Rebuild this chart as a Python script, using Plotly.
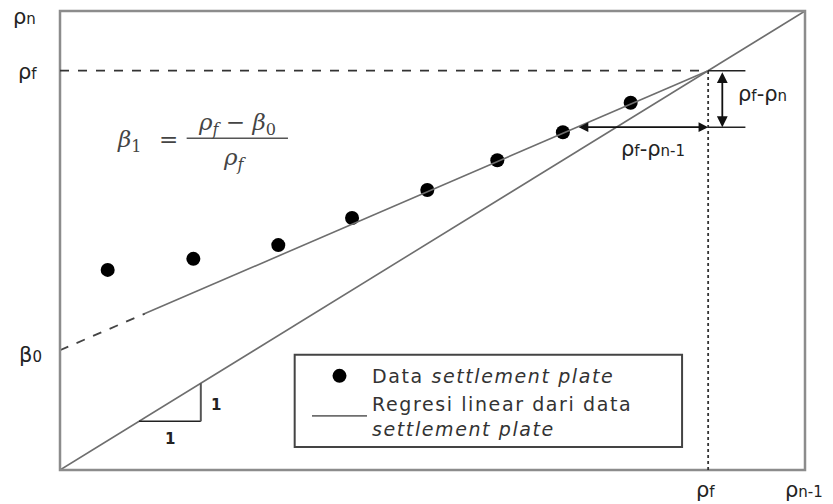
import plotly.graph_objects as go

# ---- data (axis units 0..10 on both axes, diagonal is the 1:1 line) ----
x_data = [0.64, 1.79, 2.93, 3.92, 4.93, 5.87, 6.75, 7.66]
y_data = [4.36, 4.60, 4.90, 5.49, 6.10, 6.75, 7.36, 8.00]
axis_max = 10.0
beta0 = 2.61          # intercept
rho_f = 8.70          # final settlement
rho_n = 7.47          # level used for the illustrated arrows
dash_end = 1.14       # extrapolated (dashed) part of regression ends here
beta1 = (rho_f - beta0) / rho_f
rho_n1 = (rho_n - beta0) / beta1

line_gray = "#6e6e6e"
txt = "#222222"

LS = "<span style='letter-spacing:1.6px'>{}</span>"

fig = go.Figure()

# 1:1 diagonal
fig.add_trace(go.Scatter(x=[0, axis_max], y=[0, axis_max], mode="lines",
                         line=dict(color=line_gray, width=1.6), showlegend=False,
                         hoverinfo="skip"))
# regression: dashed extrapolation
fig.add_trace(go.Scatter(x=[0, dash_end], y=[beta0, beta0 + beta1 * dash_end], mode="lines",
                         line=dict(color="#444444", width=1.8, dash="dash"), showlegend=False,
                         hoverinfo="skip"))
# data points
fig.add_trace(go.Scatter(x=x_data, y=y_data, mode="markers",
                         marker=dict(color="black", size=14),
                         name=LS.format("Data <i>settlement plate</i>")))
# regression: solid part
fig.add_trace(go.Scatter(x=[dash_end, rho_f], y=[beta0 + beta1 * dash_end, rho_f], mode="lines",
                         line=dict(color=line_gray, width=1.6),
                         name=LS.format("Regresi linear dari data") + "<br>" +
                              LS.format("<i>settlement plate</i>")))

shapes = [
    # frame
    dict(type="rect", xref="paper", yref="paper", x0=0, x1=1, y0=0, y1=1,
         line=dict(color="#8c8c8c", width=2.5), layer="above"),
    # legend box
    dict(type="rect", xref="x", yref="y", x0=3.15, x1=8.35, y0=0.5, y1=2.51,
         line=dict(color="#444444", width=2), fillcolor="white", layer="below"),
    # horizontal dashed at rho_f
    dict(type="line", x0=0, x1=rho_f, y0=rho_f, y1=rho_f,
         line=dict(color="#333333", width=1.6, dash="dash")),
    # vertical dotted at rho_f
    dict(type="line", x0=rho_f, x1=rho_f, y0=0, y1=rho_f,
         line=dict(color="#333333", width=1.8, dash="dot")),
    # short extension lines
    dict(type="line", x0=rho_f, x1=9.2, y0=rho_f, y1=rho_f,
         line=dict(color="#222222", width=1.5)),
    dict(type="line", x0=rho_f, x1=9.2, y0=rho_n, y1=rho_n,
         line=dict(color="#222222", width=1.5)),
    # slope triangle
    dict(type="line", x0=1.06, x1=1.89, y0=1.06, y1=1.06,
         line=dict(color="#222222", width=1.5)),
    dict(type="line", x0=1.89, x1=1.89, y0=1.06, y1=1.89,
         line=dict(color="#555555", width=2)),
    # fraction bar of formula
    dict(type="line", x0=1.70, x1=3.06, y0=7.23, y1=7.23,
         line=dict(color="#555555", width=1.5)),
]

def rho(sub, small=15):
    return f"ρ<span style='font-size:{small}px'>{sub}</span>"

lab_font = dict(family="DejaVu Sans", size=21, color=txt)
math_font = dict(family="DejaVu Serif", size=23, color="#444444")

annotations = [
    # axis labels (paper coords, outside the plot area)
    dict(x=-0.047, y=0.987, xref="paper", yref="paper", text=rho("n"), font=lab_font),
    dict(x=-0.043, y=0.867, xref="paper", yref="paper", text=rho("f"), font=lab_font),
    dict(x=-0.040, y=0.2505, xref="paper", yref="paper",
         text="β<span style='font-size:15px'>0</span>", font=lab_font),
    dict(x=0.866, y=-0.044, xref="paper", yref="paper", text=rho("f"), font=lab_font),
    dict(x=0.998, y=-0.044, xref="paper", yref="paper", text=rho("n-1"), font=lab_font),
    # difference labels
    dict(x=9.07, y=8.19, text=rho("f") + "-" + rho("n"), font=lab_font, xanchor="left"),
    dict(x=7.96, y=7.0, text=rho("f") + "-" + rho("n-1"), font=lab_font),
    # slope triangle labels
    dict(x=2.1, y=1.42, text="<b>1</b>", font=dict(family="DejaVu Sans", size=15, color=txt)),
    dict(x=1.48, y=0.68, text="<b>1</b>", font=dict(family="DejaVu Sans", size=15, color=txt)),
    # formula
    dict(x=0.93, y=7.16, text="<i>β</i><sub>1</sub>", font=math_font),
    dict(x=1.45, y=7.21, text="=", font=math_font),
    dict(x=2.38, y=7.53, text="<i>ρ<sub>f</sub></i> − <i>β</i><sub>0</sub>", font=math_font),
    dict(x=2.35, y=6.78, text="<i>ρ<sub>f</sub></i>", font=math_font),
    # double arrows
    dict(x=rho_f, y=rho_n, ax=rho_n1, ay=rho_n, xref="x", yref="y", axref="x", ayref="y",
         text="", showarrow=True, arrowhead=2, startarrowhead=2, arrowside="end+start",
         arrowsize=1.2, arrowwidth=1.6, arrowcolor="#111111", standoff=0, startstandoff=0),
    dict(x=8.89, y=rho_n, ax=8.89, ay=rho_f, xref="x", yref="y", axref="x", ayref="y",
         text="", showarrow=True, arrowhead=2, startarrowhead=2, arrowside="end+start",
         arrowsize=1.2, arrowwidth=1.8, arrowcolor="#111111", standoff=0, startstandoff=0),
]
for a in annotations:
    a.setdefault("showarrow", False)
    a.setdefault("xref", "x")
    a.setdefault("yref", "y")
    a.setdefault("xanchor", "center")
    a.setdefault("yanchor", "middle")

fig.update_layout(
    width=833, height=504,
    margin=dict(l=60, r=28, t=11, b=34),
    paper_bgcolor="white", plot_bgcolor="white",
    xaxis=dict(range=[0, axis_max], visible=False, showgrid=False, zeroline=False),
    yaxis=dict(range=[0, axis_max], visible=False, showgrid=False, zeroline=False),
    shapes=shapes,
    annotations=annotations,
    showlegend=True,
    legend=dict(x=(307 - 60) / 745, y=(470 - 357) / 459, xanchor="left", yanchor="top",
                bgcolor="rgba(0,0,0,0)", borderwidth=0,
                font=dict(family="DejaVu Sans", size=19, color="#333333"),
                tracegroupgap=0, itemwidth=55),
)

fig.write_html("out.html", config={"displayModeBar": False},
               post_script="document.body.style.margin='0px';")
